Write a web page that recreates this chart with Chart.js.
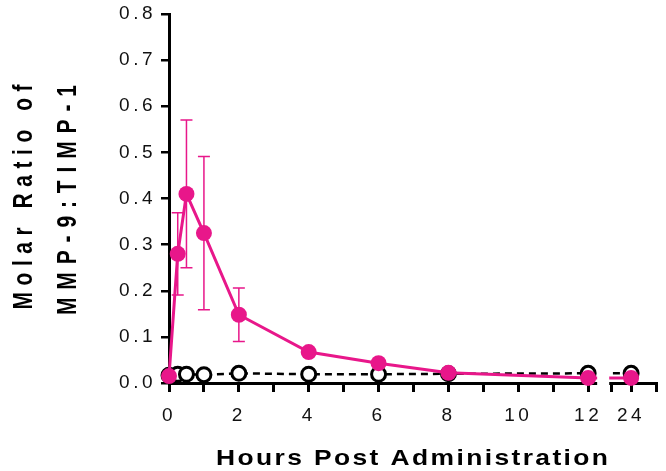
<!DOCTYPE html>
<html>
<head>
<meta charset="utf-8">
<script src="https://cdn.jsdelivr.net/npm/chart.js@4.4.0/dist/chart.umd.min.js"></script>
<style>
  body { margin: 0; background: #fff; }
  #wrap { width: 666px; height: 471px; }
</style>
</head>
<body>
<div id="wrap"><canvas id="chart"></canvas></div>
<script>
// data
const hours = [0, 0.25, 0.5, 1, 2, 4, 6, 8, 12, 24];
const treated = [0.015, 0.28, 0.41, 0.325, 0.148, 0.067, 0.043, 0.022, 0.011, 0.011];
const treatedErr = [0, 0.089, 0.16, 0.166, 0.058, 0, 0, 0, 0, 0];
const control = [0.017, 0.019, 0.019, 0.018, 0.021, 0.019, 0.019, 0.02, 0.021, 0.021];
const xLabelHours = [0, 2, 4, 6, 8, 10, 12, 24];
const yTitle = ['Molar Ratio of', 'MMP-9:TIMP-1'];
const xTitle = 'Hours Post Administration';

const PINK = '#e8178a';
const FONT = '"Liberation Sans", Arial, sans-serif';

// broken x axis: 0-12 then a short segment around 24
const SEG2_START = 23, SEG2_END = 25.25;
function axisPos(h) {
  return h <= 12 ? h : 12.66 + (h - SEG2_START) * 0.57;
}

const ctx = document.querySelector('#chart').getContext('2d');

const errorBars = {
  id: 'errorBars',
  beforeDatasetsDraw(chart) {
    const c = chart.ctx, y = chart.scales.y, x = chart.scales.x;
    c.save();
    c.strokeStyle = PINK;
    c.lineWidth = 1.5;
    hours.forEach((h, i) => {
      const e = treatedErr[i];
      if (!e) return;
      const px = x.getPixelForValue(axisPos(h));
      const top = y.getPixelForValue(treated[i] + e);
      const bot = y.getPixelForValue(treated[i] - e);
      c.beginPath();
      c.moveTo(px, top); c.lineTo(px, bot);
      c.moveTo(px - 6, top); c.lineTo(px + 6, top);
      c.moveTo(px - 6, bot); c.lineTo(px + 6, bot);
      c.stroke();
    });
    c.restore();
  }
};

// text in the figure is wide and letter-spaced
function spacedText(c, text, target) {
  c.letterSpacing = '0px';
  const w0 = c.measureText(text).width;
  const s = (target - w0) / (text.length - 1);
  c.letterSpacing = s + 'px';
  c.textAlign = 'left';
  c.textBaseline = 'middle';
  c.fillText(text, -target / 2, 0);
  c.letterSpacing = '0px';
}

const axisBreakAndTitles = {
  id: 'axisBreakAndTitles',
  beforeDraw(chart) {
    chart.ctx.letterSpacing = '3.5px';
  },
  afterDraw(chart) {
    const c = chart.ctx, x = chart.scales.x, area = chart.chartArea;
    c.letterSpacing = '0px';
    c.save();
    // gap in the x axis between 12 and 24
    const g0 = x.getPixelForValue(12) + 9;
    const g1 = x.getPixelForValue(axisPos(SEG2_START)) - 2;
    c.fillStyle = '#fff';
    c.fillRect(g0, area.top, g1 - g0, area.bottom - area.top + 14);

    c.fillStyle = '#000';
    c.font = 'bold 22px ' + FONT;
    c.save();
    c.translate(412, 459);
    c.scale(1.2, 1);
    spacedText(c, xTitle, 392 / 1.2);
    c.restore();

    c.font = 'bold 21px ' + FONT;
    c.save();
    c.translate(24, 197);
    c.scale(1.3, 1);
    c.rotate(-Math.PI / 2);
    spacedText(c, yTitle[0], 225);
    c.restore();
    c.save();
    c.translate(68, 200);
    c.scale(1.3, 1);
    c.rotate(-Math.PI / 2);
    spacedText(c, yTitle[1], 230);
    c.restore();
    c.restore();
  }
};

new Chart(ctx, {
  type: 'line',
  data: {
    datasets: [
      {
        label: 'Treated',
        data: hours.map((h, i) => ({ x: axisPos(h), y: treated[i] })),
        borderColor: PINK,
        backgroundColor: PINK,
        borderWidth: 3,
        pointRadius: 8,
        pointBackgroundColor: PINK,
        pointBorderWidth: 0,
        clip: false
      },
      {
        label: 'Control',
        data: hours.map((h, i) => ({ x: axisPos(h), y: control[i] })),
        borderColor: '#000',
        borderWidth: 2.5,
        borderDash: [7, 5],
        pointRadius: 7,
        pointBackgroundColor: '#fff',
        pointBorderColor: '#000',
        pointBorderWidth: 3,
        clip: false
      }
    ]
  },
  options: {
    responsive: true,
    maintainAspectRatio: false,
    animation: false,
    layout: { padding: { left: 99, top: 14, right: 1, bottom: 38 } },
    plugins: { legend: { display: false }, tooltip: { enabled: false } },
    scales: {
      x: {
        type: 'linear',
        min: 0,
        max: axisPos(SEG2_END),
        afterBuildTicks: (scale) => {
          const hs = [0, 1, 2, 3, 4, 5, 6, 7, 8, 9, 10, 11, 12, SEG2_START, 24, SEG2_END];
          scale.ticks = hs.map(h => ({ value: axisPos(h), hour: h }));
        },
        afterFit: (scale) => {
          scale.height = 50;
          scale.paddingLeft = 0;
          scale.paddingRight = 0;
        },
        ticks: {
          autoSkip: false,
          maxRotation: 0,
          padding: 12,
          color: '#111',
          font: { family: FONT, size: 19 },
          callback: (v, i, ticks) => {
            const h = ticks[i].hour;
            return xLabelHours.includes(h) ? String(h) : '';
          }
        },
        grid: { drawOnChartArea: false, drawTicks: true, tickLength: 9, lineWidth: 3, color: '#000' },
        border: { display: true, width: 3, color: '#000' }
      },
      y: {
        min: 0,
        max: 0.8,
        afterBuildTicks: (scale) => {
          const t = [];
          for (let k = 0; k <= 16; k++) t.push({ value: k * 0.05 });
          scale.ticks = t;
        },
        afterFit: (scale) => {
          scale.width = 70;
          scale.paddingTop = 0;
          scale.paddingBottom = 0;
        },
        ticks: {
          padding: 5,
          color: '#111',
          font: { family: FONT, size: 19 },
          callback: (v) => {
            const k = Math.round(v * 20);
            return k % 2 === 0 ? (k / 20).toFixed(1) : '';
          }
        },
        grid: { drawOnChartArea: false, drawTicks: true, tickLength: 8, lineWidth: 2.5, color: '#000' },
        border: { display: true, width: 3, color: '#000' }
      }
    }
  },
  plugins: [errorBars, axisBreakAndTitles]
});
</script>
</body>
</html>
